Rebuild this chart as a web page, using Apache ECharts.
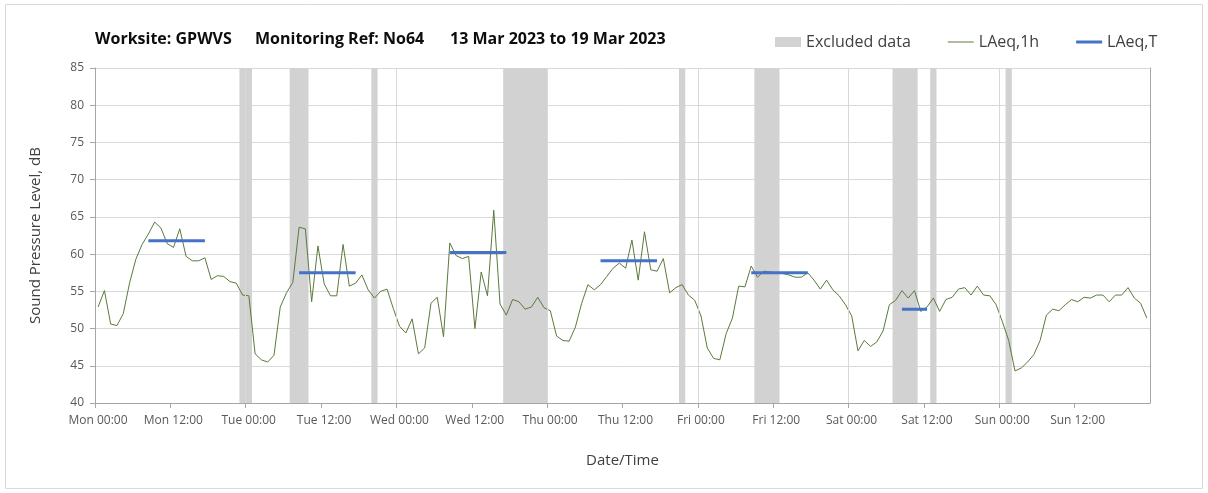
<!DOCTYPE html>
<html>
<head>
<meta charset="utf-8">
<title>Worksite GPWVS – Monitoring Ref No64</title>
<script src="https://cdn.jsdelivr.net/npm/echarts@6/dist/echarts.min.js"></script>
<style>
  html, body { margin: 0; padding: 0; background: #ffffff; }
  #chart { width: 1208px; height: 493px; }
</style>
</head>
<body>
<div id="chart"></div>
<script>
// Day names used for the time axis labels (hour 0 = Mon 00:00)
const days = ['Mon', 'Tue', 'Wed', 'Thu', 'Fri', 'Sat', 'Sun'];

// Hourly LAeq,1h readings, dB, Mon 00:00 to Sun 23:00
const laeq1h = [
  52.9, 55.1, 50.6, 50.4, 52.0, 56.1, 59.3, 61.3, 62.7, 64.3, 63.5, 61.4,
  60.9, 63.4, 59.7, 59.1, 59.1, 59.5, 56.6, 57.1, 57.0, 56.3, 56.1, 54.5,
  54.4, 46.6, 45.8, 45.5, 46.4, 52.9, 54.8, 56.2, 63.6, 63.4, 53.6, 61.1,
  56.0, 54.4, 54.4, 61.3, 55.7, 56.1, 57.2, 55.2, 54.1, 55.0, 55.3, 52.7,
  50.3, 49.4, 51.3, 46.6, 47.4, 53.4, 54.2, 48.9, 61.5, 59.8, 59.4, 59.7,
  50.0, 57.6, 54.4, 65.9, 53.3, 51.8, 53.9, 53.6, 52.6, 52.9, 54.2, 52.8,
  52.4, 49.0, 48.4, 48.3, 50.2, 53.4, 55.9, 55.2, 55.9, 57.0, 58.1, 58.8,
  58.1, 61.9, 56.5, 63.0, 57.9, 57.7, 59.4, 54.8, 55.5, 55.9, 54.5, 53.8,
  51.7, 47.4, 46.0, 45.8, 49.3, 51.4, 55.7, 55.6, 58.4, 56.9, 57.7, 57.6,
  57.5, 57.4, 57.2, 56.9, 56.9, 57.5, 56.5, 55.3, 56.5, 55.2, 54.4, 53.2,
  51.7, 47.0, 48.4, 47.6, 48.2, 49.7, 53.2, 53.8, 55.1, 54.1, 55.1, 52.3,
  52.9, 54.1, 52.3, 53.9, 54.2, 55.3, 55.5, 54.5, 55.7, 54.5, 54.4, 53.2,
  50.9, 48.4, 44.3, 44.7, 45.5, 46.5, 48.4, 51.8, 52.6, 52.4, 53.2, 53.9,
  53.6, 54.2, 54.1, 54.5, 54.5, 53.6, 54.5, 54.5, 55.5, 54.1, 53.4, 51.4
];

// Daytime LAeq,T periods: first and last hour covered, and the level, dB
const laeqTFirstHour = [8, 32, 56, 80, 104, 128];
const laeqTLastHour  = [17, 41, 65, 89, 113, 132];
const laeqTValue     = [61.8, 57.5, 60.2, 59.1, 57.5, 52.6];

// Periods excluded from the results (hours from Mon 00:00)
const excludedStart = [23, 31, 44, 65, 93, 105, 127, 133, 145];
const excludedEnd   = [25, 34, 45, 72, 94, 109, 131, 134, 146];

// Midnight boundaries marked with light vertical lines
const midnights = [24, 48, 72, 96, 120, 144];

// Heading parts
const headingParts = ['Worksite: GPWVS', 'Monitoring Ref: No64', '13 Mar 2023 to 19 Mar 2023'];

// Level axis
const yMin = 40, yMax = 85, yStep = 5;
// Time axis (hours)
const xMin = 0, xMax = 168, xStep = 12;

const GREEN = '#5b7a3c';
const BLUE = '#4472c4';
const BAND = '#d2d2d2';
const GRID = '#d9d9d9';
const AXIS = '#a6a6a6';
const FONT = "'Open Sans', 'Noto Sans', sans-serif";

function timeLabel(v) {
  const d = Math.floor(v / 24);
  const h = v % 24;
  return days[d] + ' ' + (h === 0 ? '00:00' : '12:00');
}

const laeqTSeries = laeqTValue.map((v, k) => ({
  name: 'LAeq,T',
  type: 'line',
  z: 4,
  symbol: 'none',
  silent: true,
  itemStyle: { color: BLUE },
  lineStyle: { color: BLUE, width: 3 },
  data: [[laeqTFirstHour[k] + 0.5, v], [laeqTLastHour[k] + 0.5, v]]
}));

// heading laid out as three bold runs
const headingX = [95, 255, 450];
const headingGraphics = headingParts.map((t, k) => ({
  type: 'text',
  left: headingX[k],
  top: 31,
  silent: true,
  style: {
    text: t,
    fill: '#0d0d0d',
    font: "bold 16px 'Open Sans', 'Noto Sans', sans-serif"
  }
}));

const option = {
  backgroundColor: '#ffffff',
  animation: false,
  textStyle: { fontFamily: FONT },
  legend: {
    left: 775,
    top: 34,
    padding: 0,
    itemWidth: 26,
    itemHeight: 10,
    itemGap: 37,
    textStyle: { fontFamily: FONT, fontSize: 16, color: '#404040' },
    data: [
      { name: 'Excluded data', icon: 'rect', itemStyle: { color: BAND } },
      { name: 'LAeq,1h', icon: 'path://M0,0L26,0L26,1L0,1Z', symbolKeepAspect: true, itemStyle: { color: GREEN } },
      { name: 'LAeq,T', icon: 'path://M0,0L26,0L26,3L0,3Z', symbolKeepAspect: true, itemStyle: { color: BLUE } }
    ]
  },
  grid: { left: 95, right: 58, top: 68, bottom: 90, containLabel: false },
  xAxis: [{
    type: 'value',
    min: xMin,
    max: xMax,
    interval: xStep,
    name: 'Date/Time',
    nameLocation: 'middle',
    nameGap: 50,
    nameTextStyle: { fontFamily: FONT, fontSize: 15, color: '#404040' },
    axisLine: { show: true, lineStyle: { color: AXIS, width: 1 } },
    axisTick: { show: true, length: 5, lineStyle: { color: AXIS } },
    splitLine: { show: false },
    axisLabel: {
      formatter: timeLabel,
      showMaxLabel: false,
      margin: 12,
      padding: [0, 0, 0, 6],
      fontFamily: FONT,
      fontSize: 12,
      color: '#595959'
    }
  }],
  yAxis: [{
    type: 'value',
    min: yMin,
    max: yMax,
    interval: yStep,
    name: 'Sound Pressure Level, dB',
    nameLocation: 'middle',
    nameGap: 52,
    nameRotate: 90,
    nameTextStyle: { fontFamily: FONT, fontSize: 15, color: '#404040' },
    axisLine: { show: true, lineStyle: { color: AXIS, width: 1 } },
    axisTick: { show: true, length: 5, lineStyle: { color: AXIS } },
    splitLine: { show: true, lineStyle: { color: GRID, width: 1 } },
    axisLabel: { margin: 11, fontFamily: FONT, fontSize: 12, color: '#595959' }
  }, {
    type: 'value',
    position: 'right',
    min: yMin,
    max: yMax,
    interval: yStep,
    axisLine: { show: true, lineStyle: { color: AXIS, width: 1 } },
    axisTick: { show: false },
    axisLabel: { show: false },
    splitLine: { show: false }
  }],
  series: [
    {
      name: 'Excluded data',
      type: 'line',
      z: 1,
      symbol: 'none',
      silent: true,
      itemStyle: { color: BAND },
      lineStyle: { width: 0 },
      data: [],
      markArea: {
        silent: true,
        itemStyle: { color: BAND, opacity: 1 },
        data: excludedStart.map((s, k) => [{ xAxis: s }, { xAxis: excludedEnd[k] }])
      }
    },
    {
      name: 'midnight',
      type: 'line',
      z: 2,
      symbol: 'none',
      silent: true,
      data: [],
      markLine: {
        silent: true,
        symbol: ['none', 'none'],
        label: { show: false },
        lineStyle: { color: GRID, width: 1, type: 'solid' },
        data: midnights.map(h => ({ xAxis: h }))
      }
    },
    {
      name: 'LAeq,1h',
      type: 'line',
      z: 3,
      symbol: 'none',
      silent: true,
      itemStyle: { color: GREEN },
      lineStyle: { color: GREEN, width: 1 },
      data: laeq1h.map((v, i) => [i + 0.5, v])
    }
  ].concat(laeqTSeries),
  graphic: [{
    type: 'rect',
    silent: true,
    z: -1,
    shape: { x: 5.5, y: 4.5, width: 1197, height: 484 },
    style: { fill: 'none', stroke: '#d9d9d9', lineWidth: 1 }
  }].concat(headingGraphics)
};

const chart = echarts.init(document.getElementById('chart'), null, { renderer: 'canvas' });
chart.setOption(option);
</script>
</body>
</html>
